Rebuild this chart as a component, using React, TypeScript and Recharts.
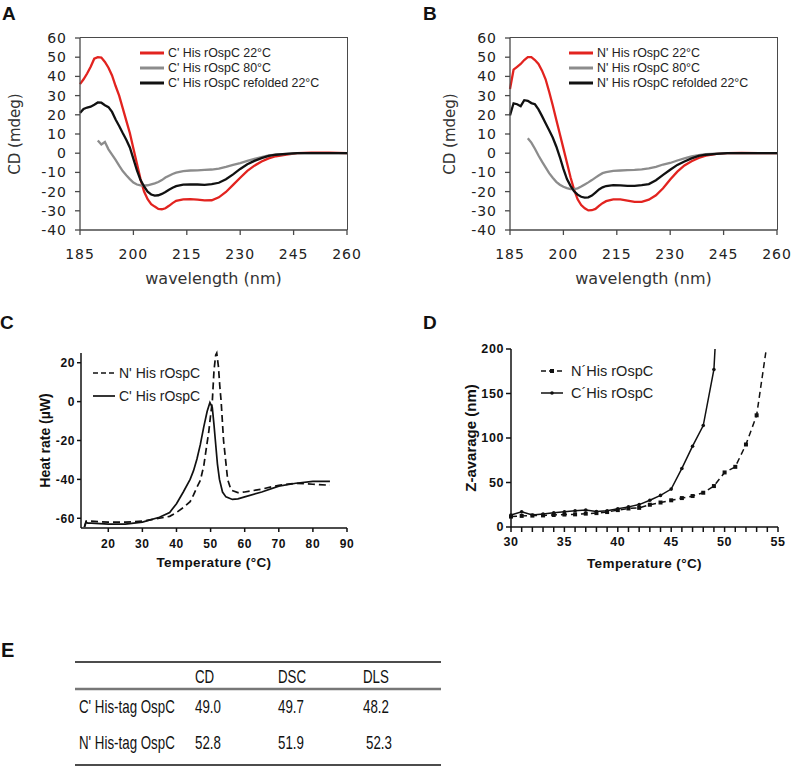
import React from "react";
import { LineChart, Line, XAxis, YAxis, Legend } from "recharts";

// ---- CD spectra (panels A, B) ----
const cdWavelength = [
  185, 186, 187, 188, 189, 190, 191, 192, 193, 194, 195, 196, 197, 198, 199, 200, 201, 202, 203, 204, 205, 206, 207, 208, 209, 210, 211, 212,
  214, 216, 218, 220, 222, 224, 226, 228, 230, 232, 234, 236, 238, 240,
  243, 246, 250, 255, 260,
];

const cHis22 = [
  36, 38.5, 41.5, 45, 49.2, 50, 49.8, 47.5, 44.5, 40.5, 35, 30, 23.5, 17, 10.5, 2.5, -5.5, -13.5, -20, -24, -26.5, -27.8, -29, -29.2, -28.7, -27.4, -26, -24.8,
  -24, -23.9, -24.2, -24.6, -24.5, -23, -20.2, -16.5, -12.8, -9.2, -6.5, -4.3, -2.7, -1.6,
  -0.7, 0, 0.3, 0.3, 0,
];
const cHis80 = [
  null, null, null, null, null,
  6.6, 4.5, 5.8, 2, -0.8, -3.5, -6.5, -9.3, -11.5, -13.5, -15.3, -16.3, -16.8, -16.9, -16.7, -16.2, -15.7, -15, -14, -12.7, -11.7, -10.8, -10.1,
  -9.3, -9, -8.9, -8.7, -8.5, -8, -7.1, -6.1, -5.2, -4, -3, -2, -1.2, -0.7,
  -0.3, 0, 0, 0, 0,
];
const cHisRefolded = [
  21, 23, 23.8, 24.2, 25.2, 26.4, 26.3, 25, 24, 21.5, 17.5, 14.2, 10.5, 7, 3, -3, -9, -14, -17.3, -20, -21.5, -22.1, -21.9, -21.2, -20.2, -19, -18, -17.2,
  -16.4, -16.2, -16.3, -16.5, -16.1, -15.4, -13.6, -11, -8.2, -5.8, -4, -2.6, -1.4, -0.8,
  -0.3, 0, 0, 0, 0,
];

const nHis22 = [
  33.4, 43.5, 45, 46.5, 48.5, 50, 50, 48.5, 46.5, 43, 38.5, 32, 25, 17.4, 10, 2.5, -5, -12.5, -19, -24, -27, -28.7, -29.8, -29.7, -29, -27.4, -26, -25,
  -24.1, -24.1, -24.7, -25.3, -25.3, -24.2, -21.9, -18.3, -13.7, -9.6, -6.4, -4.2, -2.5, -1.3,
  -0.3, 0, 0.2, 0, 0,
];
const nHis80 = [
  null, null, null, null, null,
  7.8, 5.5, 2.3, -1.2, -4.4, -7.4, -10.4, -12.8, -14.9, -16.4, -17.5, -18.2, -18.7, -18.7, -18.3, -17.4, -16.3, -15.2, -14, -12.7, -11.5, -10.4, -9.9,
  -9.2, -9, -8.8, -8.7, -8.4, -7.9, -7.1, -5.9, -5.1, -3.8, -2.7, -1.7, -1, -0.5,
  -0.2, 0, 0, 0, 0,
];
const nHisRefolded = [
  19.7, 26, 25.5, 24.5, 27.6, 27.3, 26.1, 25.5, 22.8, 19.3, 15.6, 12, 8.2, 3.5, -2, -8.2, -13.5, -17, -19.8, -21.6, -22.7, -23.1, -23, -22.1, -20.5, -18.9, -17.8, -17.1,
  -16.6, -16.8, -17, -17, -16.6, -16.1, -14.1, -11.3, -8.6, -6.1, -4.3, -2.7, -1.4, -0.8,
  -0.3, 0, 0, 0, 0,
];

const cdNamesC = ["C' His rOspC 22°C", "C' His rOspC 80°C", "C' His rOspC refolded 22°C"];
const cdNamesN = ["N' His rOspC 22°C", "N' His rOspC 80°C", "N' His rOspC refolded 22°C"];
const cdColors = ["#e2231f", "#8c8c8c", "#111111"];
const cdXTicks = [185, 200, 215, 230, 245, 260];
const cdYTicks = [-40, -30, -20, -10, 0, 10, 20, 30, 40, 50, 60];

// ---- DSC (panel C) ----
const dscNTemp = [13, 13.5, 15, 20, 25, 30, 35, 38, 40, 42, 44, 45, 46, 47, 48, 49, 49.5, 50, 50.5, 51, 51.5, 51.8, 52.3, 52.7, 53.1, 53.8, 55, 56, 58, 60, 65, 70, 75, 80, 85];
const dscNHeat = [-64.5, -61.5, -61.5, -62, -62, -61.5, -60, -59, -57, -54.5, -51.5, -48, -44, -40.5, -33, -21, -15, -7, 0, 16, 24, 25, 18, 8, 0, -20, -40, -45.5, -46.8, -46.5, -45, -43, -42, -42.5, -43];
const dscCTemp = [13, 13.5, 14, 15, 20, 25, 30, 35, 38, 40, 42, 44, 45, 46, 47, 48, 49, 49.8, 50.5, 51, 51.4, 52, 52.6, 53.5, 54.5, 56.4, 58, 60, 65, 70, 75, 80, 85];
const dscCHeat = [-64.5, -62, -62.5, -62.5, -63, -63, -62, -59.5, -57, -52.5, -46.5, -40, -35.5, -29.5, -22, -13, -5, -0.5, -3, -12, -20, -32, -40, -46.5, -49, -50.3, -50, -49, -46.5, -43.5, -42, -41, -41];
const dscXTicks = [20, 30, 40, 50, 60, 70, 80, 90];
const dscYTicks = [-60, -40, -20, 0, 20];

// ---- DLS (panel D) ----
const dlsNTemp = [30, 31, 32, 33, 34, 35, 36, 37, 38, 39, 40, 41, 42, 43, 44, 45, 46, 47, 48, 49, 50, 51, 52, 53, 54];
const dlsNSize = [11.7, 12.5, 12.8, 13, 13.5, 14, 14.2, 15, 15.6, 16.8, 19, 20.8, 21.5, 25, 27.5, 30, 32.5, 34.8, 38.5, 46, 61.3, 67.6, 92.7, 125.5, 208];
const dlsCTemp = [30, 31, 32, 33, 34, 35, 36, 37, 38, 39, 40, 41, 42, 43, 44, 45, 46, 47, 48, 49, 50];
const dlsCSize = [13.5, 17, 13.5, 14.6, 16, 17, 18.2, 19, 17.5, 18.2, 20.5, 22.6, 25.2, 30, 35.5, 42.6, 65.8, 90.8, 114, 177, 400];
const dlsXTicks = [30, 31, 32, 33, 34, 35, 36, 37, 38, 39, 40, 41, 42, 43, 44, 45, 46, 47, 48, 49, 50, 51, 52, 53, 54, 55];
const dlsYTicks = [0, 50, 100, 150, 200];

// ---- Table (panel E) ----
const tableHeaders = ["CD", "DSC", "DLS"];
const tableRowNames = ["C' His-tag OspC", "N' His-tag OspC"];
const tableValuesC = ["49.0", "49.7", "48.2"];
const tableValuesN = ["52.8", "51.9", "52.3"];

const VERDANA = "'DejaVu Sans', Verdana, sans-serif";
const ARIAL = "'Liberation Sans', Arial, Helvetica, sans-serif";

const zip = (xs: number[], ys: (number | null)[]) => xs.map((x, i) => ({ x, y: ys[i] }));

function CdPanel({ left, plotLeft, yLabelX, legendLeft, names, series }: any) {
  const data = cdWavelength.map((w, i) => {
    const row: any = { w };
    series.forEach((s: (number | null)[], k: number) => {
      row["s" + k] = s[i];
    });
    return row;
  });
  const axisStyle = { stroke: "#4a4a4a", strokeWidth: 1.3 };
  const tick = { fill: "#222", fontSize: 14, fontFamily: VERDANA, letterSpacing: 1 };
  return (
    <div style={{ position: "absolute", left, top: 0, width: 396, height: 300 }}>
      <LineChart
        width={396}
        height={300}
        data={data}
        margin={{ top: 38, right: 396 - plotLeft - 267, left: 0, bottom: 10 }}
      >
        <XAxis
          dataKey="w"
          type="number"
          domain={[185, 260]}
          ticks={cdXTicks}
          interval={0}
          height={60}
          tickSize={5}
          tickMargin={14}
          axisLine={axisStyle}
          tickLine={axisStyle}
          tick={tick}
          label={{ value: "wavelength (nm)", position: "insideBottom", offset: 6, fill: "#333", fontSize: 16, fontFamily: VERDANA }}
        />
        <YAxis
          type="number"
          domain={[-40, 60]}
          ticks={cdYTicks}
          interval={0}
          width={plotLeft}
          tickSize={5}
          tickMargin={8}
          axisLine={axisStyle}
          tickLine={axisStyle}
          tick={tick}
          label={{ value: "CD (mdeg)", angle: -90, position: "insideLeft", offset: yLabelX, fill: "#333", fontSize: 15, fontFamily: VERDANA, style: { textAnchor: "middle" } }}
        />
        {series.map((_: any, k: number) => (
          <Line
            key={k}
            dataKey={"s" + k}
            stroke={cdColors[k]}
            strokeWidth={2.3}
            dot={false}
            isAnimationActive={false}
          />
        ))}
        <Legend
          layout="vertical"
          align="center"
          verticalAlign="middle"
          wrapperStyle={{ left: legendLeft, top: 45 }}
          content={() => (
            <div style={{ fontFamily: ARIAL, fontSize: 12.4, color: "#222" }}>
              {names.map((n: string, k: number) => (
                <div key={n} style={{ display: "flex", alignItems: "center", height: 15 }}>
                  <svg width={24} height={6} style={{ marginRight: 4 }}>
                    <line x1={0} x2={24} y1={3} y2={3} stroke={cdColors[k]} strokeWidth={3} />
                  </svg>
                  <span>{n}</span>
                </div>
              ))}
            </div>
          )}
        />
      </LineChart>
      {/* top and right edges of the plot box */}
      <div
        style={{
          position: "absolute",
          left: plotLeft,
          top: 37,
          width: 268,
          height: 193,
          boxSizing: "border-box",
          borderTop: "1.5px solid #4a4a4a",
          borderRight: "1.5px solid #4a4a4a",
          pointerEvents: "none",
          zIndex: 2,
        }}
      />
    </div>
  );
}

const squareDot = (props: any) => {
  const { cx, cy, index } = props;
  if (cx == null || cy == null) return <g key={"sq" + index} />;
  return <rect key={"sq" + index} x={cx - 2} y={cy - 2} width={4} height={4} fill="#111" />;
};
const roundDot = (props: any) => {
  const { cx, cy, index } = props;
  if (cx == null || cy == null) return <g key={"rd" + index} />;
  return <circle key={"rd" + index} cx={cx} cy={cy} r={1.8} fill="#111" />;
};

function DscPanel() {
  const axis = { stroke: "#111", strokeWidth: 1.5 };
  const tick = { fill: "#111", fontSize: 12, fontWeight: 700, fontFamily: ARIAL, letterSpacing: 0.6 };
  return (
    <div style={{ position: "absolute", left: 0, top: 300 }}>
      <LineChart width={396} height={280} margin={{ top: 53, right: 49, left: 0, bottom: 7 }}>
        <XAxis
          dataKey="x"
          type="number"
          domain={[12, 90]}
          ticks={dscXTicks}
          interval={0}
          height={45}
          tickSize={4}
          tickMargin={7}
          axisLine={axis}
          tickLine={axis}
          tick={tick}
          label={{ value: "Temperature  (°C)", position: "insideBottom", offset: 6, fill: "#111", fontSize: 13.5, fontWeight: 700, fontFamily: ARIAL, letterSpacing: 0.4 }}
        />
        <YAxis
          type="number"
          domain={[-65, 25]}
          ticks={dscYTicks}
          interval={0}
          width={81}
          tickSize={4}
          tickMargin={2}
          axisLine={axis}
          tickLine={axis}
          tick={tick}
          label={{ value: "Heat rate (µW)", angle: -90, position: "insideLeft", offset: 45, fill: "#111", fontSize: 14, fontWeight: 700, fontFamily: ARIAL, style: { textAnchor: "middle" } }}
        />
        <Line data={zip(dscNTemp, dscNHeat)} dataKey="y" stroke="#111" strokeWidth={1.7} strokeDasharray="7 4" dot={false} isAnimationActive={false} />
        <Line data={zip(dscCTemp, dscCHeat)} dataKey="y" stroke="#111" strokeWidth={1.7} dot={false} isAnimationActive={false} />
        <Legend
          layout="vertical"
          align="center"
          verticalAlign="middle"
          wrapperStyle={{ left: 93, top: 61 }}
          content={() => (
            <div style={{ fontFamily: ARIAL, fontSize: 14, color: "#222" }}>
              {[
                { n: "N' His rOspC", dash: "5 3" },
                { n: "C' His rOspC", dash: undefined },
              ].map((e) => (
                <div key={e.n} style={{ display: "flex", alignItems: "center", height: 23 }}>
                  <svg width={22} height={6} style={{ marginRight: 4 }}>
                    <line x1={0} x2={22} y1={3} y2={3} stroke="#111" strokeWidth={1.7} strokeDasharray={e.dash} />
                  </svg>
                  <span>{e.n}</span>
                </div>
              ))}
            </div>
          )}
        />
      </LineChart>
    </div>
  );
}

function DlsPanel() {
  const axis = { stroke: "#111", strokeWidth: 1.5 };
  const tick = { fill: "#111", fontSize: 12.5, fontWeight: 700, fontFamily: ARIAL, letterSpacing: 0.6 };
  return (
    <div style={{ position: "absolute", left: 396, top: 300 }}>
      <LineChart width={396} height={280} margin={{ top: 49, right: 14, left: 0, bottom: 7 }}>
        <XAxis
          dataKey="x"
          type="number"
          domain={[30, 55]}
          ticks={dlsXTicks}
          tickFormatter={(v: number) => (v % 5 === 0 ? String(v) : "")}
          interval={0}
          height={46}
          tickSize={5}
          tickMargin={5}
          axisLine={axis}
          tickLine={axis}
          tick={tick}
          label={{ value: "Temperature (°C)", position: "insideBottom", offset: 5, fill: "#111", fontSize: 13.5, fontWeight: 700, fontFamily: ARIAL, letterSpacing: 0.4 }}
        />
        <YAxis
          type="number"
          domain={[0, 200]}
          allowDataOverflow
          ticks={dlsYTicks}
          interval={0}
          width={115}
          tickSize={5}
          tickMargin={2}
          axisLine={axis}
          tickLine={axis}
          tick={tick}
          label={{ value: "Z-avarage (nm)", angle: -90, position: "insideLeft", offset: 75, fill: "#111", fontSize: 15, fontWeight: 700, fontFamily: ARIAL, style: { textAnchor: "middle" } }}
        />
        <Line data={zip(dlsNTemp, dlsNSize)} dataKey="y" stroke="#111" strokeWidth={1.5} strokeDasharray="6 4" dot={squareDot} isAnimationActive={false} />
        <Line data={zip(dlsCTemp, dlsCSize)} dataKey="y" stroke="#111" strokeWidth={1.5} dot={roundDot} isAnimationActive={false} />
        <Legend
          layout="vertical"
          align="center"
          verticalAlign="middle"
          wrapperStyle={{ left: 145, top: 60 }}
          content={() => (
            <div style={{ fontFamily: ARIAL, fontSize: 14.5, color: "#222" }}>
              {[
                { n: "N´His rOspC", dash: "5 3", sq: true },
                { n: "C´His rOspC", dash: undefined, sq: false },
              ].map((e) => (
                <div key={e.n} style={{ display: "flex", alignItems: "center", height: 22 }}>
                  <svg width={22} height={6} style={{ marginRight: 8 }}>
                    <line x1={0} x2={22} y1={3} y2={3} stroke="#111" strokeWidth={1.5} strokeDasharray={e.dash} />
                    {e.sq ? <rect x={9} y={1} width={4} height={4} fill="#111" /> : <circle cx={11} cy={3} r={1.8} fill="#111" />}
                  </svg>
                  <span>{e.n}</span>
                </div>
              ))}
            </div>
          )}
        />
      </LineChart>
    </div>
  );
}

// condensed table text (the original uses a narrow sans face)
function NarrowText({ x, y, children }: any) {
  return (
    <text transform={`translate(${x},${y}) scale(0.74,1)`} fontFamily={ARIAL} fontSize={18} fill="#111">
      {children}
    </text>
  );
}

function TablePanel() {
  const colX = [195, 278, 363];
  const rows = [tableValuesC, tableValuesN];
  const rowY = [713, 749];
  return (
    <svg width={792} height={166} style={{ position: "absolute", left: 0, top: 600 }} viewBox="0 600 792 166">
      <text x={1} y={657} fontFamily={ARIAL} fontWeight={700} fontSize={20} fill="#111">E</text>
      <line x1={75} x2={441} y1={662} y2={662} stroke="#111" strokeWidth={1.5} />
      <line x1={75} x2={441} y1={689} y2={689} stroke="#777" strokeWidth={2.5} />
      <line x1={75} x2={441} y1={765} y2={765} stroke="#111" strokeWidth={1.5} />
      {tableHeaders.map((h, i) => (
        <NarrowText key={h} x={colX[i]} y={683}>{h}</NarrowText>
      ))}
      {rows.map((vals, r) => (
        <g key={r}>
          <NarrowText x={79} y={rowY[r]}>{tableRowNames[r]}</NarrowText>
          {vals.map((v, i) => (
            <NarrowText key={i} x={colX[i] + (r === 1 && i === 2 ? 3 : 0)} y={rowY[r]}>{v}</NarrowText>
          ))}
        </g>
      ))}
    </svg>
  );
}

const letterStyle: React.CSSProperties = {
  position: "absolute",
  fontFamily: ARIAL,
  fontWeight: 700,
  fontSize: 19,
  lineHeight: "19px",
  color: "#111",
};

export default function App() {
  return (
    <div style={{ position: "absolute", left: 0, top: 0, width: 792, height: 766, background: "#fff", overflow: "hidden" }}>
      <CdPanel left={0} plotLeft={80} yLabelX={15} legendLeft={140} names={cdNamesC} series={[cHis22, cHis80, cHisRefolded]} />
      <CdPanel left={396} plotLeft={114} yLabelX={54} legendLeft={173} names={cdNamesN} series={[nHis22, nHis80, nHisRefolded]} />
      <DscPanel />
      <DlsPanel />
      <TablePanel />
      <div style={{ ...letterStyle, left: 2, top: 4 }}>A</div>
      <div style={{ ...letterStyle, left: 423, top: 4 }}>B</div>
      <div style={{ ...letterStyle, left: 0, top: 313 }}>C</div>
      <div style={{ ...letterStyle, left: 423, top: 313 }}>D</div>
    </div>
  );
}
